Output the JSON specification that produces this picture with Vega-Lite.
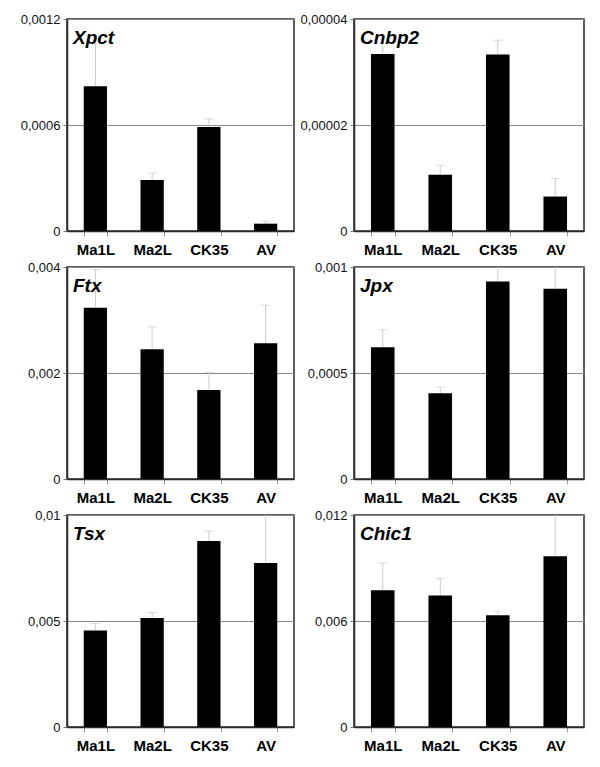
{
  "$schema": "https://vega.github.io/schema/vega-lite/v6.json",
  "padding": {"left": 19, "top": 12, "right": 5, "bottom": 5},
  "background": "white",
  "data": {"values": [
    {"gene": "Xpct", "group": "Ma1L", "value": 0.00082, "upper": 0.00106},
    {"gene": "Xpct", "group": "Ma2L", "value": 0.000288, "upper": 0.000328},
    {"gene": "Xpct", "group": "CK35", "value": 0.000588, "upper": 0.000635},
    {"gene": "Xpct", "group": "AV", "value": 0.0000415, "upper": 0.000055},
    {"gene": "Cnbp2", "group": "Ma1L", "value": 0.0000334, "upper": 0.0000355},
    {"gene": "Cnbp2", "group": "Ma2L", "value": 0.0000106, "upper": 0.0000124},
    {"gene": "Cnbp2", "group": "CK35", "value": 0.0000333, "upper": 0.000036},
    {"gene": "Cnbp2", "group": "AV", "value": 0.0000065, "upper": 0.0000099},
    {"gene": "Ftx", "group": "Ma1L", "value": 0.00323, "upper": 0.00395},
    {"gene": "Ftx", "group": "Ma2L", "value": 0.00245, "upper": 0.00287},
    {"gene": "Ftx", "group": "CK35", "value": 0.00168, "upper": 0.00201},
    {"gene": "Ftx", "group": "AV", "value": 0.00256, "upper": 0.00328},
    {"gene": "Jpx", "group": "Ma1L", "value": 0.000622, "upper": 0.000704},
    {"gene": "Jpx", "group": "Ma2L", "value": 0.000404, "upper": 0.000433},
    {"gene": "Jpx", "group": "CK35", "value": 0.000932, "upper": 0.00105},
    {"gene": "Jpx", "group": "AV", "value": 0.000897, "upper": 0.00104},
    {"gene": "Tsx", "group": "Ma1L", "value": 0.00455, "upper": 0.00488},
    {"gene": "Tsx", "group": "Ma2L", "value": 0.00514, "upper": 0.0054},
    {"gene": "Tsx", "group": "CK35", "value": 0.00877, "upper": 0.00925},
    {"gene": "Tsx", "group": "AV", "value": 0.00774, "upper": 0.0106},
    {"gene": "Chic1", "group": "Ma1L", "value": 0.00774, "upper": 0.00928},
    {"gene": "Chic1", "group": "Ma2L", "value": 0.00744, "upper": 0.0084},
    {"gene": "Chic1", "group": "CK35", "value": 0.00632, "upper": 0.00653},
    {"gene": "Chic1", "group": "AV", "value": 0.00966, "upper": 0.0126}
  ]},
  "columns": 2,
  "spacing": {"row": 2, "column": 4},
  "resolve": {"scale": {"x": "independent", "y": "independent"}},
  "concat": [
    {
      "width": 227, "height": 212,
      "title": {"text": "Xpct"},
      "transform": [{"filter": "datum.gene === 'Xpct'"}],
      "encoding": {"x": {"field": "group", "type": "nominal", "sort": ["Ma1L", "Ma2L", "CK35", "AV"], "title": null, "scale": {"paddingInner": 0.59, "paddingOuter": 0.295}}},
      "layer": [
        {"mark": {"type": "rule", "color": "#cccccc", "clip": true}, "encoding": {"y": {"field": "value", "type": "quantitative", "title": null, "scale": {"domain": [0, 0.0012], "nice": false}, "axis": {"values": [0, 0.0006, 0.0012]}}, "y2": {"field": "upper"}}},
        {"mark": {"type": "bar", "color": "black"}, "encoding": {"y": {"field": "value", "type": "quantitative"}}},
        {"mark": {"type": "tick", "color": "#cccccc", "clip": true, "size": 9, "thickness": 1}, "encoding": {"y": {"field": "upper", "type": "quantitative"}}}
      ]
    },
    {
      "width": 230, "height": 212,
      "title": {"text": "Cnbp2"},
      "transform": [{"filter": "datum.gene === 'Cnbp2'"}],
      "encoding": {"x": {"field": "group", "type": "nominal", "sort": ["Ma1L", "Ma2L", "CK35", "AV"], "title": null, "scale": {"paddingInner": 0.59, "paddingOuter": 0.295}}},
      "layer": [
        {"mark": {"type": "rule", "color": "#cccccc", "clip": true}, "encoding": {"y": {"field": "value", "type": "quantitative", "title": null, "scale": {"domain": [0, 0.00004], "nice": false}, "axis": {"values": [0, 0.00002, 0.00004]}}, "y2": {"field": "upper"}}},
        {"mark": {"type": "bar", "color": "black"}, "encoding": {"y": {"field": "value", "type": "quantitative"}}},
        {"mark": {"type": "tick", "color": "#cccccc", "clip": true, "size": 9, "thickness": 1}, "encoding": {"y": {"field": "upper", "type": "quantitative"}}}
      ]
    },
    {
      "width": 227, "height": 212,
      "title": {"text": "Ftx"},
      "transform": [{"filter": "datum.gene === 'Ftx'"}],
      "encoding": {"x": {"field": "group", "type": "nominal", "sort": ["Ma1L", "Ma2L", "CK35", "AV"], "title": null, "scale": {"paddingInner": 0.59, "paddingOuter": 0.295}}},
      "layer": [
        {"mark": {"type": "rule", "color": "#cccccc", "clip": true}, "encoding": {"y": {"field": "value", "type": "quantitative", "title": null, "scale": {"domain": [0, 0.004], "nice": false}, "axis": {"values": [0, 0.002, 0.004]}}, "y2": {"field": "upper"}}},
        {"mark": {"type": "bar", "color": "black"}, "encoding": {"y": {"field": "value", "type": "quantitative"}}},
        {"mark": {"type": "tick", "color": "#cccccc", "clip": true, "size": 9, "thickness": 1}, "encoding": {"y": {"field": "upper", "type": "quantitative"}}}
      ]
    },
    {
      "width": 230, "height": 212,
      "title": {"text": "Jpx"},
      "transform": [{"filter": "datum.gene === 'Jpx'"}],
      "encoding": {"x": {"field": "group", "type": "nominal", "sort": ["Ma1L", "Ma2L", "CK35", "AV"], "title": null, "scale": {"paddingInner": 0.59, "paddingOuter": 0.295}}},
      "layer": [
        {"mark": {"type": "rule", "color": "#cccccc", "clip": true}, "encoding": {"y": {"field": "value", "type": "quantitative", "title": null, "scale": {"domain": [0, 0.001], "nice": false}, "axis": {"values": [0, 0.0005, 0.001]}}, "y2": {"field": "upper"}}},
        {"mark": {"type": "bar", "color": "black"}, "encoding": {"y": {"field": "value", "type": "quantitative"}}},
        {"mark": {"type": "tick", "color": "#cccccc", "clip": true, "size": 9, "thickness": 1}, "encoding": {"y": {"field": "upper", "type": "quantitative"}}}
      ]
    },
    {
      "width": 227, "height": 212,
      "title": {"text": "Tsx"},
      "transform": [{"filter": "datum.gene === 'Tsx'"}],
      "encoding": {"x": {"field": "group", "type": "nominal", "sort": ["Ma1L", "Ma2L", "CK35", "AV"], "title": null, "scale": {"paddingInner": 0.59, "paddingOuter": 0.295}}},
      "layer": [
        {"mark": {"type": "rule", "color": "#cccccc", "clip": true}, "encoding": {"y": {"field": "value", "type": "quantitative", "title": null, "scale": {"domain": [0, 0.01], "nice": false}, "axis": {"values": [0, 0.005, 0.01]}}, "y2": {"field": "upper"}}},
        {"mark": {"type": "bar", "color": "black"}, "encoding": {"y": {"field": "value", "type": "quantitative"}}},
        {"mark": {"type": "tick", "color": "#cccccc", "clip": true, "size": 9, "thickness": 1}, "encoding": {"y": {"field": "upper", "type": "quantitative"}}}
      ]
    },
    {
      "width": 230, "height": 212,
      "title": {"text": "Chic1"},
      "transform": [{"filter": "datum.gene === 'Chic1'"}],
      "encoding": {"x": {"field": "group", "type": "nominal", "sort": ["Ma1L", "Ma2L", "CK35", "AV"], "title": null, "scale": {"paddingInner": 0.59, "paddingOuter": 0.295}}},
      "layer": [
        {"mark": {"type": "rule", "color": "#cccccc", "clip": true}, "encoding": {"y": {"field": "value", "type": "quantitative", "title": null, "scale": {"domain": [0, 0.012], "nice": false}, "axis": {"values": [0, 0.006, 0.012]}}, "y2": {"field": "upper"}}},
        {"mark": {"type": "bar", "color": "black"}, "encoding": {"y": {"field": "value", "type": "quantitative"}}},
        {"mark": {"type": "tick", "color": "#cccccc", "clip": true, "size": 9, "thickness": 1}, "encoding": {"y": {"field": "upper", "type": "quantitative"}}}
      ]
    }
  ],
  "config": {
    "font": "Liberation Sans",
    "view": {"stroke": "#2a2a2a", "strokeWidth": 1.5},
    "title": {"anchor": "start", "frame": "group", "fontSize": 19, "fontWeight": "bold", "fontStyle": "italic", "color": "black", "offset": -35, "dx": 6, "baseline": "top"},
    "axisX": {"domainColor": "#2a2a2a", "domainWidth": 1.5, "tickColor": "#999", "tickSize": 5, "tickBand": "extent", "labelFont": "Liberation Sans", "labelFontSize": 15, "labelFontWeight": "bold", "labelColor": "black", "labelPadding": 6, "labelAngle": 0, "grid": false},
    "axisY": {"domainColor": "#2a2a2a", "domainWidth": 1.5, "tickColor": "#777", "tickSize": 4, "labelFontSize": 13, "labelColor": "#111", "labelPadding": 3, "grid": true, "gridColor": "#8a8a8a", "gridWidth": 1, "labelExpr": "replace(format(datum.value, '~f'), '.', ',')"}
  }
}
